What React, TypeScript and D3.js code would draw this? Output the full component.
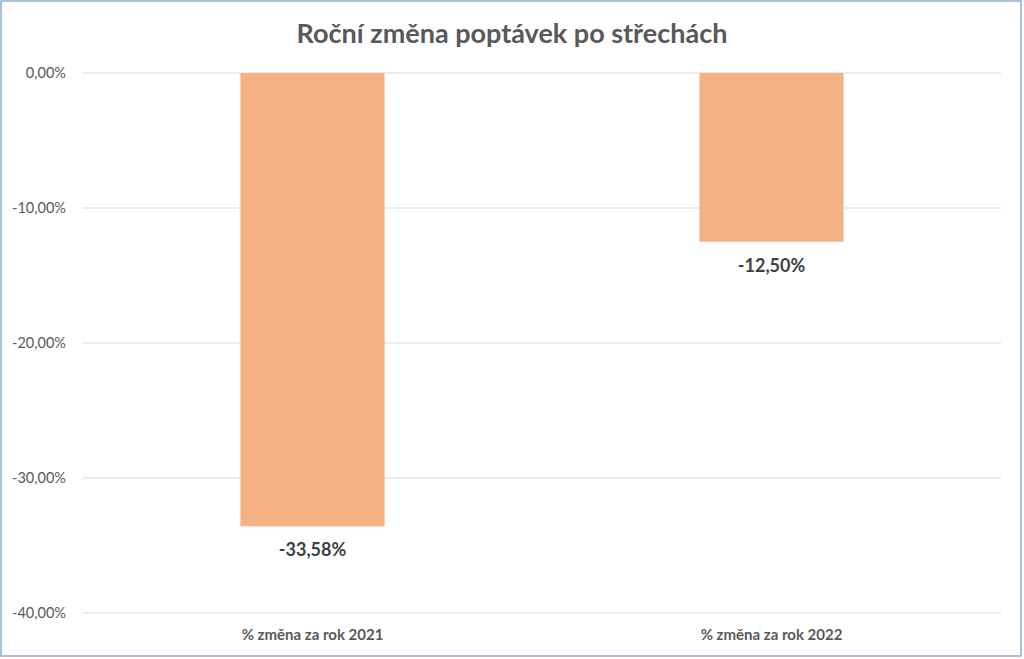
import React from "react";
import * as d3 from "d3";

const categories = ["% změna za rok 2021", "% změna za rok 2022"];
const values = [-33.58, -12.5];
const yTicks = [0, -10, -20, -30, -40];

const W = 1024;
const H = 659;
const FONT = "Lato, 'Open Sans', sans-serif";

const fmt = (v: number) => d3.format(".2f")(v).replace("−", "-").replace(".", ",") + "%";

export default function App() {
  const x = d3
    .scaleBand<string>()
    .domain(categories)
    .range([83, 1001])
    .paddingInner(0.686)
    .paddingOuter(0.343);
  const y = d3.scaleLinear().domain([0, -40]).range([73, 613]);

  return (
    <svg
      width={W}
      height={H}
      style={{ position: "absolute", left: 0, top: 0, background: "#fff" }}
      fontFamily={FONT}
    >
      <rect x={1} y={1} width={1020} height={655} fill="#fff" stroke="#8eaadb" strokeWidth={1.5} />
      <text x={512} y={43} textAnchor="middle" fontSize={27} fontWeight={700} fill="#595959">
        Roční změna poptávek po střechách
      </text>
      {yTicks.map((t) => (
        <g key={t}>
          <line x1={83} x2={1001} y1={y(t)} y2={y(t)} stroke="#d9d9d9" strokeWidth={1} />
          <text x={66} y={y(t)} dy="0.35em" textAnchor="end" fontSize={14.5} fill="#595959">
            {fmt(t)}
          </text>
        </g>
      ))}
      {categories.map((c, i) => (
        <g key={c}>
          <rect
            x={x(c)}
            y={y(0)}
            width={x.bandwidth()}
            height={y(values[i]) - y(0)}
            fill="#f4b183"
          />
          <text
            x={(x(c) as number) + x.bandwidth() / 2}
            y={y(values[i]) + 30}
            textAnchor="middle"
            fontSize={18}
            fontWeight={700}
            fill="#404040"
          >
            {fmt(values[i])}
          </text>
          <text
            x={(x(c) as number) + x.bandwidth() / 2}
            y={640}
            textAnchor="middle"
            fontSize={15}
            fontWeight={700}
            fill="#595959"
          >
            {c}
          </text>
        </g>
      ))}
    </svg>
  );
}
